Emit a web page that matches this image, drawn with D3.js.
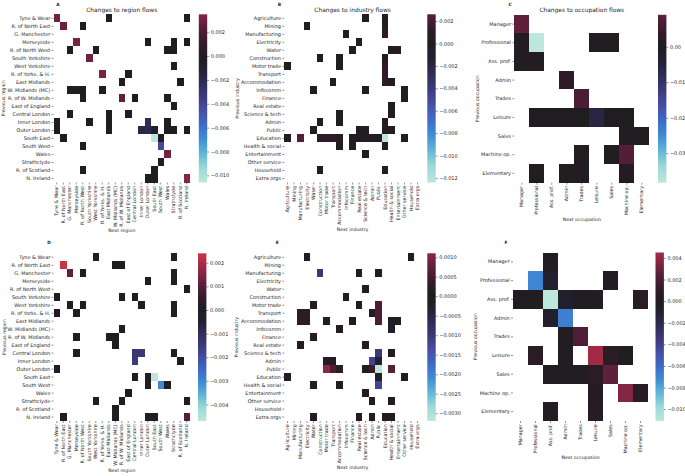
<!DOCTYPE html>
<html><head><meta charset="utf-8">
<script src="https://cdn.jsdelivr.net/npm/d3@7"></script>
<style>
body{margin:0;background:#fff}
text{font-family:"DejaVu Sans",sans-serif;fill:#262626}
</style>
</head><body>
<svg id="chart" width="685" height="476"></svg>
<script>
// ---------- categories ----------
const regions = ["Tyne & Wear","R. of North East","G. Manchester","Merseyside","R. of North West","South Yorkshire","West Yorkshire","R. of Yorks. & H.","East Midlands","W. Midlands (MC)","R. of W. Midlands","East of England","Central London","Inner London","Outer London","South East","South West","Wales","Strathclyde","R. of Scotland","N. Ireland"];
const industries = ["Agriculture","Mining","Manufacturing","Electricity","Water","Construction","Motor trade","Transport","Accommodation","Infocomm","Finance","Real estate","Science & tech","Admin","Public","Education","Health & social","Entertainment","Other service","Household","Extra orgs"];
const occupations = ["Manager","Professional","Ass. prof.","Admin","Trades","Leisure","Sales","Machine op.","Elementary"];

// ---------- cell values: [previous index, next index, value] ----------
const regionFlowsA = [
 [0,0,0.0030],[0,8,0.0002],[0,20,0.0001],
 [1,1,0.0028],[1,4,0.0002],
 [3,3,0.0031],[3,14,0.0001],[3,18,0.0002],[3,20,0.0001],
 [4,2,0.0002],[4,6,0.0002],[4,17,0.0001],[4,18,0.0001],
 [5,5,0.0029],[6,18,0.0002],
 [7,7,0.0032],[7,11,0.0002],
 [8,10,0.0002],[8,19,0.0001],
 [9,2,0.0002],[9,3,0.0002],[9,4,0.0002],[9,7,0.0002],
 [10,4,0.0001],[10,10,0.0025],[10,12,0.0001],[10,17,0.0002],
 [11,18,0.0002],
 [12,2,0.0001],[12,8,0.0001],[12,11,0.0002],
 [13,0,0.0001],[13,5,0.0002],[13,8,0.0001],[13,14,-0.0022],[13,17,0.0001],
 [14,0,0.0001],[14,8,0.0002],[14,13,-0.0018],[14,14,-0.0020],[14,15,-0.0008],[14,17,0.0001],[14,18,0.0002],[14,20,0.0001],
 [15,1,0.0001],[15,15,-0.0106],[15,16,0.0002],
 [16,4,0.0002],[16,16,-0.0043],
 [17,17,0.0030],[18,16,0.0002],
 [19,4,0.0001],[19,15,0.0002],
 [20,14,0.0001],[20,15,0.0002],[20,20,0.0035]
];
const industryFlowsB = [
 [0,12,0.0002],[0,15,0.0003],
 [1,3,0.0002],[1,15,0.0004],
 [2,9,0.0002],[2,15,0.0012],
 [3,11,0.0002],
 [4,10,0.0002],[4,16,0.0002],[4,17,0.0002],
 [5,5,0.0002],[5,8,0.0002],[5,15,0.0004],
 [6,0,0.0002],[6,8,0.0002],[6,15,0.0010],
 [7,15,0.0012],
 [8,7,0.0003],[8,15,0.0010],[8,16,0.0004],
 [9,4,0.0002],[9,12,0.0002],[9,18,0.0002],
 [10,18,0.0002],[11,16,0.0002],
 [12,8,0.0002],[12,16,0.0003],
 [13,5,0.0002],[13,8,0.0002],[13,15,0.0006],
 [14,4,0.0002],[14,11,0.0002],[14,12,0.0002],[14,15,0.0005],[14,16,0.0004],
 [15,0,0.0003],[15,2,0.0026],[15,5,0.0009],[15,6,0.0012],[15,7,0.0010],[15,8,0.0006],[15,10,0.0003],[15,11,0.0004],[15,12,0.0005],[15,13,0.0003],[15,14,0.0004],[15,15,-0.0124],[15,18,0.0004],
 [16,8,0.0002],[16,10,0.0002],[16,15,0.0003],
 [17,12,0.0002],
 [19,5,0.0002],[19,15,0.0002]
];
const occupationFlowsC = [
 [0,0,0.0090],
 [1,0,0.0005],[1,1,-0.0383],[1,5,0.0005],[1,6,0.0005],
 [2,0,0.0005],[2,1,0.0005],
 [3,3,0.0030],[4,4,0.0070],
 [5,1,0.0004],[5,2,0.0004],[5,3,0.0004],[5,4,0.0004],[5,5,-0.0060],[5,6,0.0004],[5,7,0.0004],
 [6,7,0.0005],[6,8,0.0005],
 [7,4,0.0005],[7,6,0.0005],[7,7,0.0080],
 [8,1,0.0005],[8,3,0.0005],[8,4,0.0005],[8,7,0.0010]
];
const regionFlowsD = [
 [0,6,0.0001],[0,18,0.0001],
 [1,1,0.0024],[1,9,0.0001],[1,10,0.0001],
 [2,2,0.0011],[2,4,0.0001],[2,18,0.0001],
 [3,14,0.0001],[3,18,0.0001],
 [4,20,0.0001],
 [5,0,0.0001],[5,10,0.0001],[5,12,0.0001],
 [6,2,0.0001],[6,4,0.0001],[6,13,0.0001],[6,18,0.0001],
 [7,0,0.0001],[7,3,0.0001],[7,18,0.0001],
 [9,10,0.0001],
 [10,3,0.0001],[10,8,0.0001],[10,9,0.0001],
 [11,9,0.0001],
 [12,3,0.0001],[12,12,-0.0014],[12,13,-0.0014],[12,18,0.0001],
 [13,12,-0.0015],[13,19,0.0001],
 [14,0,0.0001],
 [15,12,0.0001],[15,14,0.0001],[15,15,-0.0047],
 [16,14,0.0001],[16,16,-0.0030],[16,17,0.0001],
 [17,11,0.0001],
 [18,6,0.0001],[18,10,0.0001],[18,20,0.0001],
 [19,9,0.0001],
 [20,1,0.0001],[20,9,0.0001],[20,14,0.0001],[20,15,0.0001],[20,20,0.0010]
];
const industryFlowsE = [
 [0,3,0.0001],[0,19,0.0001],
 [2,5,-0.0010],[2,11,0.0001],[2,14,0.0001],
 [4,12,0.0001],[5,9,0.0001],
 [6,4,0.0001],[6,11,0.0001],[6,14,0.0006],
 [7,2,0.0002],[7,3,0.0002],[7,13,0.0001],[7,14,0.0006],
 [8,2,0.0002],[8,3,0.0002],[8,6,0.0001],[8,10,0.0001],[8,14,0.0006],[8,16,-0.0001],[8,17,0.0001],
 [9,8,0.0001],[9,16,-0.0001],
 [10,4,0.0001],
 [11,2,0.0001],[11,12,0.0001],
 [12,14,-0.0010],[12,16,0.0001],
 [13,6,0.0001],[13,7,0.0001],[13,13,-0.0012],[13,14,-0.0003],
 [14,6,0.0011],[14,7,0.0006],[14,8,0.0002],[14,12,0.0001],[14,13,0.0004],[14,14,-0.0032],[14,16,0.0007],
 [15,0,0.0001],[15,14,-0.0002],[15,18,0.0001],
 [16,4,0.0001],[16,8,0.0001],[16,14,-0.0012],
 [17,12,0.0001],
 [18,13,0.0001],[18,16,0.0001],
 [20,4,0.0001],[20,11,0.0001],[20,13,0.0001],[20,15,0.0001],[20,16,0.0001]
];
const occupationFlowsF = [
 [0,2,0.0002],
 [1,1,-0.0070],[1,2,-0.0010],[1,6,0.0002],
 [2,0,0.0002],[2,1,0.0002],[2,2,-0.0111],[2,3,-0.0008],[2,4,0.0002],[2,5,0.0002],[2,8,0.0006],
 [3,2,-0.0008],[3,3,-0.0068],
 [4,3,0.0002],[4,4,0.0022],
 [5,1,0.0006],[5,3,0.0002],[5,5,0.0045],[5,6,0.0007],[5,7,0.0002],
 [6,2,0.0002],[6,3,0.0002],[6,4,0.0002],[6,5,0.0006],[6,6,0.0026],
 [7,5,0.0003],[7,7,0.0036],[7,8,0.0005],
 [8,2,0.0002],[8,5,0.0004]
];

// ---------- colorbar tick labels ----------
const ticksA = [0.002,0,-0.002,-0.004,-0.006,-0.008,-0.010];
const ticksB = [0.002,0,-0.002,-0.004,-0.006,-0.008,-0.010,-0.012];
const ticksC = [0,-0.01,-0.02,-0.03];
const ticksD = [0.002,0.001,0,-0.001,-0.002,-0.003,-0.004];
const ticksE = [0.001,0.0005,0,-0.0005,-0.001,-0.0015,-0.002,-0.0025,-0.003];
const ticksF = [0.004,0.002,0,-0.002,-0.004,-0.006,-0.008,-0.010];

// ---------- icefire-like colormap ----------
const iceStops = [0,0.06,0.12,0.17,0.22,0.28,0.34,0.40,0.45,0.5,0.55,0.60,0.65,0.70,0.75,0.80,0.87,0.94,1];
const iceCols = ["#bde7db","#9ad9d8","#5fb3d6","#3f8fd4","#3d6fcb","#4650a8","#3d3a7a","#2e2b52","#232032","#1e1d20","#331b29","#501e38","#7a2342","#a02a45","#c53346","#e04c3c","#f07d3e","#f8b470","#fde6bc"];
const icefire = d3.scaleLinear().domain(iceStops).range(iceCols).interpolate(d3.interpolateRgb).clamp(true);

const svg = d3.select("#chart");

const panels = [
 {letter:"A", title:"Changes to region flows", rows:regions, cols:regions, cells:regionFlowsA, ticks:ticksA, fmt:".3f",
  x0:53.5,x1:190,y0:14.3,y1:182.5, cb:198.8, ylab:"Previous region", xlab:"Next region", ylx:4.8, xly:231.8, lx:58, ly:5.5},
 {letter:"B", title:"Changes to industry flows", rows:industries, cols:industries, cells:industryFlowsB, ticks:ticksB, fmt:".3f",
  x0:284.3,x1:420.8,y0:14.3,y1:182.5, cb:427.3, ylab:"Previous industry", xlab:"Next industry", ylx:239, xly:231, lx:279.5, ly:5.5},
 {letter:"C", title:"Changes to occupation flows", rows:occupations, cols:occupations, cells:occupationFlowsC, ticks:ticksC, fmt:".2f",
  x0:514.3,x1:649.3,y0:14.8,y1:182.7, cb:658, ylab:"Previous occupation", xlab:"Next occupation", ylx:479.4, xly:221, lx:510, ly:5.5},
 {letter:"D", title:"", rows:regions, cols:regions, cells:regionFlowsD, ticks:ticksD, fmt:".3f",
  x0:53.5,x1:190,y0:253.3,y1:421, cb:198, ylab:"Previous region", xlab:"Next region", ylx:5.6, xly:471.7, lx:49, ly:244},
 {letter:"E", title:"", rows:industries, cols:industries, cells:industryFlowsE, ticks:ticksE, fmt:".4f",
  x0:284.3,x1:420.8,y0:253.3,y1:421, cb:427.3, ylab:"Previous industry", xlab:"Next industry", ylx:238.4, xly:469.4, lx:277.3, ly:244},
 {letter:"F", title:"", rows:occupations, cols:occupations, cells:occupationFlowsF, ticks:ticksF, fmt:".3f",
  x0:513,x1:648,y0:252.5,y1:421, cb:655.5, ylab:"Previous occupation", xlab:"Next occupation", ylx:477.4, xly:459.4, lx:506, ly:244}
];

const CB_W = 8.4;
let gid = 0;

function styleAxis(sel, fs) {
  sel.select(".domain").remove();
  sel.selectAll(".tick line").attr("stroke","#262626").attr("stroke-width",0.5);
  sel.selectAll(".tick text").style("font-size", fs + "px").attr("fill","#262626");
}

panels.forEach(p => {
  const g = svg.append("g");
  const x = d3.scaleBand().domain(p.cols).range([p.x0, p.x1]);
  const y = d3.scaleBand().domain(p.rows).range([p.y0, p.y1]);
  const [vmin, vmax] = d3.extent(p.cells, d => d[2]);
  const vr = Math.max(vmax, -vmin);
  const color = v => icefire((v + vr) / (2 * vr));

  g.append("g").selectAll("rect").data(p.cells).join("rect")
    .attr("x", d => x(p.cols[d[1]]))
    .attr("y", d => y(p.rows[d[0]]))
    .attr("width", x.bandwidth())
    .attr("height", y.bandwidth())
    .attr("fill", d => color(d[2]))
    .attr("shape-rendering","crispEdges");

  const ya = g.append("g").attr("transform", `translate(${p.x0},0)`)
    .call(d3.axisLeft(y).tickSize(2).tickPadding(1.3));
  styleAxis(ya, 4.95);
  const xa = g.append("g").attr("transform", `translate(0,${p.y1})`)
    .call(d3.axisBottom(x).tickSize(2).tickPadding(1.3));
  styleAxis(xa, 4.8);
  xa.selectAll(".tick text")
    .attr("transform","rotate(-90)")
    .attr("x", -3.3).attr("y", 0).attr("dy","0.35em")
    .attr("text-anchor","end");

  g.append("text").attr("transform", `translate(${p.ylx},${(p.y0+p.y1)/2}) rotate(-90)`)
    .attr("text-anchor","middle").style("font-size","4.7px").text(p.ylab);
  g.append("text").attr("x",(p.x0+p.x1)/2).attr("y",p.xly)
    .attr("text-anchor","middle").style("font-size","4.7px").text(p.xlab);
  if (p.title) {
    g.append("text").attr("x",(p.x0+p.x1)/2).attr("y",12)
      .attr("text-anchor","middle").style("font-size","5.9px").text(p.title);
  }
  g.append("text").attr("x",p.lx).attr("y",p.ly).attr("text-anchor","middle")
    .style("font-size","4.4px").style("font-weight","bold").text(p.letter);

  const id = "grad" + (gid++);
  const grad = svg.append("defs").append("linearGradient").attr("id", id)
    .attr("x1",0).attr("x2",0).attr("y1",1).attr("y2",0);
  d3.range(0, 1.0001, 1/64).forEach(t => {
    const v = vmin + t * (vmax - vmin);
    grad.append("stop").attr("offset", t).attr("stop-color", color(v));
  });
  const cy = d3.scaleLinear().domain([vmin, vmax]).range([p.y1, p.y0]);
  g.append("rect").attr("x", p.cb).attr("y", p.y0).attr("width", CB_W).attr("height", p.y1 - p.y0)
    .attr("fill", `url(#${id})`);
  const ca = g.append("g").attr("transform", `translate(${p.cb + CB_W},0)`)
    .call(d3.axisRight(cy).tickValues(p.ticks).tickFormat(d3.format(p.fmt)).tickSize(2).tickPadding(1.5));
  styleAxis(ca, 5);
});
</script>
</body></html>
